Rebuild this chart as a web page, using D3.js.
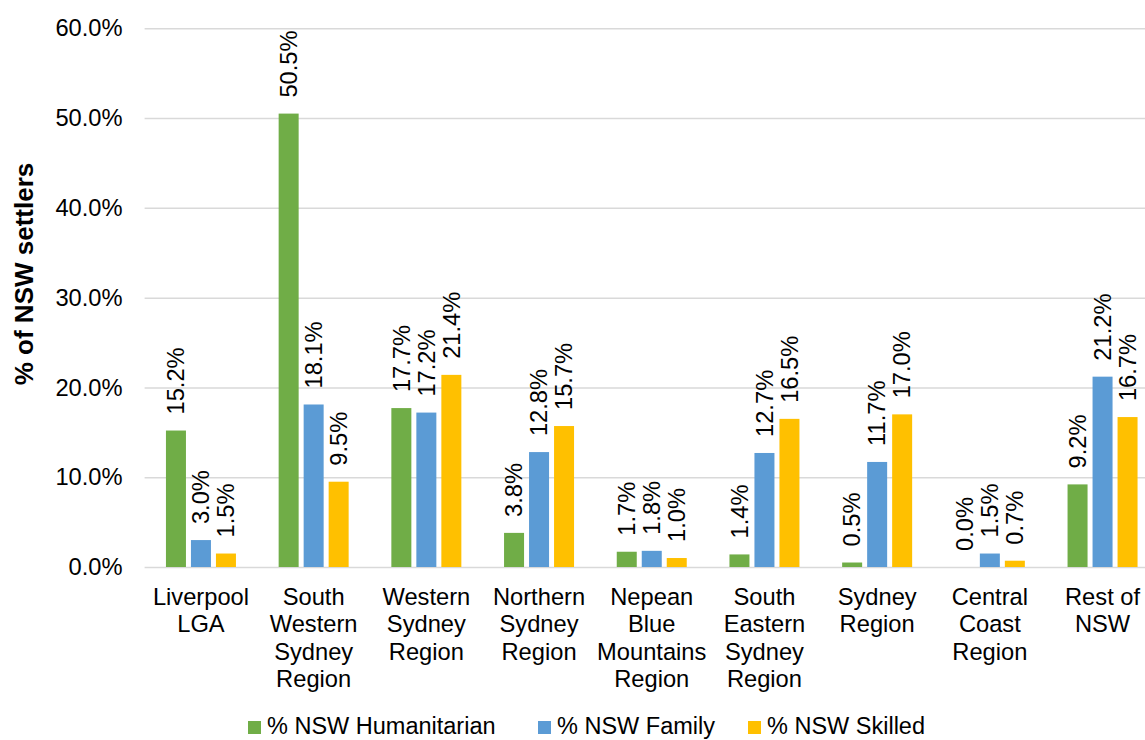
<!DOCTYPE html>
<html>
<head>
<meta charset="utf-8">
<script src="https://cdn.jsdelivr.net/npm/d3@7"></script>
<style>
  body { margin: 0; background: #fff; }
  text { font-family: "Liberation Sans", Arial, sans-serif; fill: #000; }
</style>
</head>
<body>
<div id="chart"></div>
<script>
let categories = ['Liverpool\nLGA', 'South\nWestern\nSydney\nRegion', 'Western\nSydney\nRegion',
  'Northern\nSydney\nRegion', 'Nepean\nBlue\nMountains\nRegion', 'South\nEastern\nSydney\nRegion',
  'Sydney\nRegion', 'Central\nCoast\nRegion', 'Rest of\nNSW'];
let seriesNames = ['% NSW Humanitarian', '% NSW Family', '% NSW Skilled'];
let humanitarian = [15.2, 50.5, 17.7, 3.8, 1.7, 1.4, 0.5, 0.0, 9.2];
let family = [3.0, 18.1, 17.2, 12.8, 1.8, 12.7, 11.7, 1.5, 21.2];
let skilled = [1.5, 9.5, 21.4, 15.7, 1.0, 16.5, 17.0, 0.7, 16.7];
let yTicks = [0, 10, 20, 30, 40, 50, 60];
let colors = ['#70AD47', '#5B9BD5', '#FFC000'];

let width = 1145, height = 740;
let plotLeft = 144.6, plotRight = 1158.9, plotTop = 28.3, plotBottom = 567;
let fs = '23.7px';

let svg = d3.select('#chart').append('svg')
  .attr('width', width).attr('height', height);

let x0 = d3.scaleBand().domain(d3.range(categories.length)).range([plotLeft, plotRight]);
let bw = x0.bandwidth();
let x1 = d3.scaleBand().domain(d3.range(3))
  .range([(bw - 70) / 2, (bw + 70) / 2]).paddingInner(0.2);
let y = d3.scaleLinear().domain([0, 60]).range([plotBottom, plotTop]);

// gridlines + y ticks
let yAxis = svg.append('g')
  .attr('transform', 'translate(' + plotLeft + ',0)')
  .call(d3.axisLeft(y).tickValues(yTicks).tickSize(-(width - plotLeft)).tickPadding(22)
    .tickFormat(d => d.toFixed(1) + '%'));
yAxis.select('.domain').remove();
yAxis.selectAll('line').attr('stroke', '#d9d9d9').attr('stroke-width', 1.5);
yAxis.selectAll('text').style('font-size', fs).style('font-family', '"Liberation Sans", Arial, sans-serif').attr('fill', '#000');

// bars
let series = [humanitarian, family, skilled];
let groups = svg.selectAll('g.grp')
  .data(categories).enter().append('g')
  .attr('class', 'grp')
  .attr('transform', (d, i) => 'translate(' + x0(i) + ',0)');

groups.selectAll('rect')
  .data((d, i) => series.map((s, k) => ({ k: k, v: s[i] })))
  .enter().append('rect')
  .attr('x', d => x1(d.k))
  .attr('width', x1.bandwidth())
  .attr('y', d => y(d.v))
  .attr('height', d => y(0) - y(d.v))
  .attr('fill', d => colors[d.k]);

groups.selectAll('text.lbl')
  .data((d, i) => series.map((s, k) => ({ k: k, v: s[i] })))
  .enter().append('text')
  .attr('class', 'lbl')
  .attr('transform', d => 'translate(' + (x1(d.k) + x1.bandwidth() / 2) + ',' + (y(d.v) - 16) + ') rotate(-90)')
  .attr('dy', '0.35em')
  .style('font-size', fs)
  .text(d => d.v.toFixed(1) + '%');

// category labels
svg.selectAll('text.cat')
  .data(categories).enter().append('text')
  .attr('class', 'cat')
  .attr('text-anchor', 'middle')
  .style('font-size', fs)
  .each(function(d, i) {
    let t = d3.select(this);
    d.split('\n').forEach((line, j) => {
      t.append('tspan')
        .attr('x', x0(i) + bw / 2)
        .attr('y', 605 + j * 27.3)
        .text(line);
    });
  });

// y title
svg.append('text')
  .attr('transform', 'translate(33,274) rotate(-90)')
  .attr('text-anchor', 'middle')
  .style('font-size', '26px')
  .style('font-weight', 'bold')
  .text('% of NSW settlers');

// legend
let legendX = [248, 538, 748];
let legend = svg.selectAll('g.leg')
  .data(seriesNames).enter().append('g')
  .attr('class', 'leg')
  .attr('transform', (d, i) => 'translate(' + legendX[i] + ',721)');
legend.append('rect').attr('width', 13).attr('height', 13).attr('fill', (d, i) => colors[i]);
legend.append('text').attr('x', 19).attr('y', 13).style('font-size', '23.5px').text(d => d);
</script>
</body>
</html>
